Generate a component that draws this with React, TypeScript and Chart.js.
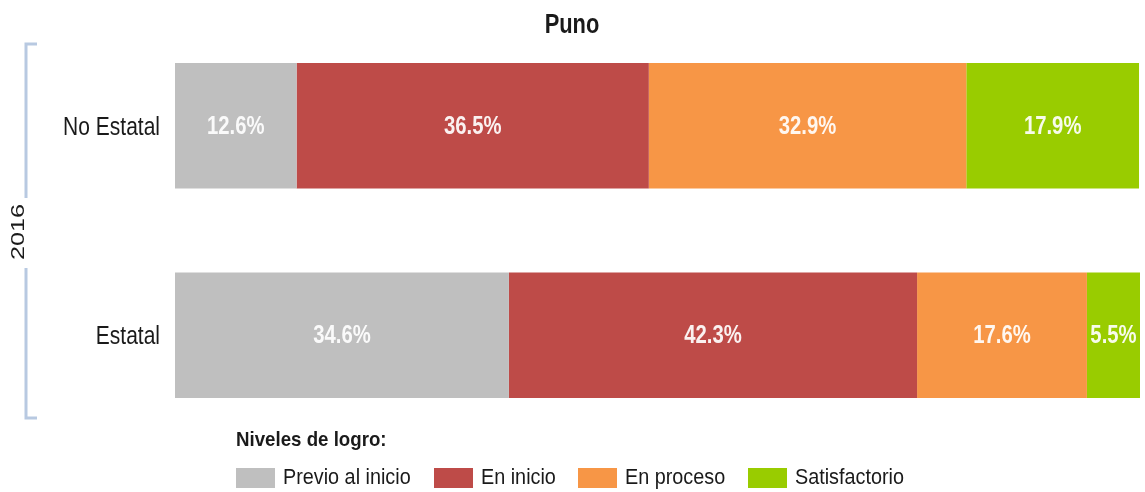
import React, { useEffect, useRef } from "react";
import { Chart, registerables } from "chart.js";

Chart.register(...registerables);

const titleText = "Puno";
const yearLabel = "2016";
const legendTitle = "Niveles de logro:";
const categories = ["No Estatal", "Estatal"];
const seriesNames = ["Previo al inicio", "En inicio", "En proceso", "Satisfactorio"];
const previoValues = [12.6, 34.6];
const inicioValues = [36.5, 42.3];
const procesoValues = [32.9, 17.6];
const satisfactorioValues = [17.9, 5.5];
const seriesColors = ["#bfbfbf", "#be4b48", "#f79646", "#99cc00"];

const FONT = "'Liberation Sans', Arial, sans-serif";
const TEXT = "#1a1a1a";

function drawText(
  ctx: CanvasRenderingContext2D,
  text: string,
  x: number,
  y: number,
  font: string,
  color: string,
  align: "left" | "center" | "right",
  k: number
) {
  ctx.save();
  ctx.font = font;
  ctx.fillStyle = color;
  ctx.textAlign = align;
  ctx.textBaseline = "middle";
  ctx.translate(x, y);
  ctx.scale(k, 1);
  ctx.fillText(text, 0, 0);
  ctx.restore();
}

const overlayPlugin = {
  id: "overlay",
  afterDatasetsDraw(chart: any) {
    const ctx = chart.ctx;
    chart.data.datasets.forEach((ds: any, di: number) => {
      const meta = chart.getDatasetMeta(di);
      meta.data.forEach((el: any, i: number) => {
        const v = ds.data[i];
        const cx = (el.x + el.base) / 2;
        drawText(ctx, v.toFixed(1) + "%", cx, el.y + 1, `bold 26px ${FONT}`, "rgba(255,255,255,0.92)", "center", 0.78);
      });
    });
  },
  afterDraw(chart: any) {
    const ctx = chart.ctx;
    const yScale = chart.scales.y;
    // category labels
    categories.forEach((c, i) => {
      drawText(ctx, c, 160, yScale.getPixelForValue(i) + 2, `25px ${FONT}`, TEXT, "right", 0.84);
    });
    // title
    drawText(ctx, titleText, 572, 26, `bold 27px ${FONT}`, TEXT, "center", 0.81);

    // bracket
    ctx.save();
    ctx.strokeStyle = "#b8c9e1";
    ctx.lineWidth = 3;
    ctx.beginPath();
    ctx.moveTo(37, 44);
    ctx.lineTo(26, 44);
    ctx.lineTo(26, 198);
    ctx.moveTo(26, 268);
    ctx.lineTo(26, 418);
    ctx.lineTo(37, 418);
    ctx.stroke();
    ctx.restore();

    // year label (rotated)
    ctx.save();
    ctx.translate(19, 232);
    ctx.rotate(-Math.PI / 2);
    ctx.scale(1.33, 1);
    ctx.font = `19px ${FONT}`;
    ctx.fillStyle = TEXT;
    ctx.textAlign = "center";
    ctx.textBaseline = "middle";
    ctx.fillText(yearLabel, 0, 0);
    ctx.restore();

    // legend
    drawText(ctx, legendTitle, 236, 440, `bold 21px ${FONT}`, TEXT, "left", 0.89);
    const boxX = [236, 434, 578, 748];
    seriesNames.forEach((n, i) => {
      ctx.save();
      ctx.fillStyle = seriesColors[i];
      ctx.fillRect(boxX[i], 468, 39, 20);
      ctx.restore();
      drawText(ctx, n, boxX[i] + 47, 478, `22px ${FONT}`, TEXT, "left", 0.9);
    });
  },
};

export default function App() {
  const ref = useRef<HTMLCanvasElement>(null);
  useEffect(() => {
    if (!ref.current) return;
    const values = [previoValues, inicioValues, procesoValues, satisfactorioValues];
    const chart = new Chart(ref.current, {
      type: "bar",
      data: {
        labels: categories,
        datasets: seriesNames.map((n, i) => ({
          label: n,
          data: values[i],
          backgroundColor: seriesColors[i],
          borderWidth: 0,
          categoryPercentage: 1,
          barPercentage: 0.6,
        })),
      },
      options: {
        indexAxis: "y",
        animation: false,
        responsive: false,
        maintainAspectRatio: false,
        layout: { padding: { top: 21, bottom: 52, right: 5, left: 175 } },
        plugins: {
          legend: { display: false },
          title: { display: false },
          tooltip: { enabled: false },
        },
        scales: {
          x: { display: false, stacked: true, min: 0, max: 100 },
          y: { display: false, stacked: true },
        },
      },
      plugins: [overlayPlugin],
    });
    return () => chart.destroy();
  }, []);
  return (
    <div style={{ position: "fixed", left: 0, top: 0, width: 1145, height: 492, background: "#fff" }}>
      <canvas ref={ref} width={1145} height={492} style={{ width: 1145, height: 492 }} />
    </div>
  );
}
